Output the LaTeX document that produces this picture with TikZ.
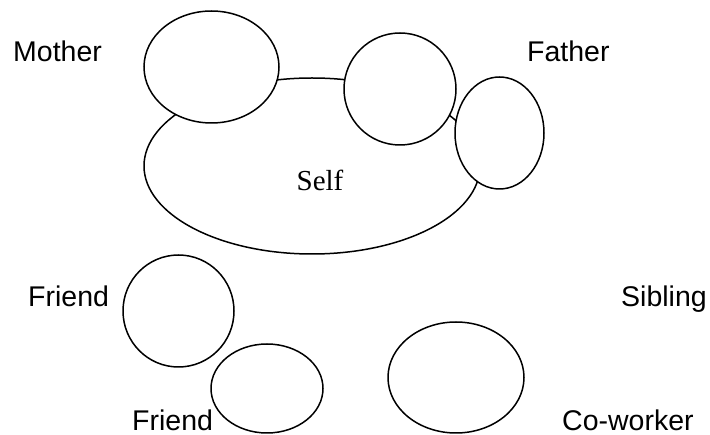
\documentclass[tikz,border=0pt]{standalone}
\usepackage{fontspec}
\setmainfont{Liberation Serif}
\setsansfont{Liberation Sans}
\begin{document}
\begin{tikzpicture}[x=1pt,y=-1pt,
  ring/.style={draw=black,line width=1.5pt,fill=white},
  lbl/.style={anchor=base west,inner sep=0pt,font=\sffamily\fontsize{28.5}{30}\selectfont},
  selflbl/.style={inner sep=0pt,font=\rmfamily\fontsize{29}{30}\selectfont}]
\useasboundingbox (0,0) rectangle (710,435);

% central self ellipse, drawn first so the attached rings cover it
\draw[ring] (312,166) ellipse [x radius=168,y radius=88];
\node[selflbl] (self) at (320,180) {Self};

% rings touching the self ellipse
\draw[ring] (211.5,67) ellipse [x radius=67.5,y radius=56];
\draw[ring] (400,89) ellipse [x radius=56,y radius=56];
\draw[ring] (499.5,133) ellipse [x radius=44.5,y radius=56];

% separate rings
\draw[ring] (178.5,311) ellipse [x radius=55.5,y radius=56];
\draw[ring] (267,388.5) ellipse [x radius=56,y radius=44.5];
\draw[ring] (456,377.5) ellipse [x radius=68,y radius=55.5];

% labels
\node[lbl] (mother) at (13,61.7) {Mother};
\node[lbl] (father) at (527,61.7) {Father};
\node[lbl] (friendA) at (28,307) {Friend};
\node[lbl] (sibling) at (621,307) {Sibling};
\node[lbl] (friendB) at (132,430.5) {Friend};
\node[lbl] (cowork) at (562,430.5) {Co-worker};
\end{tikzpicture}
\end{document}
